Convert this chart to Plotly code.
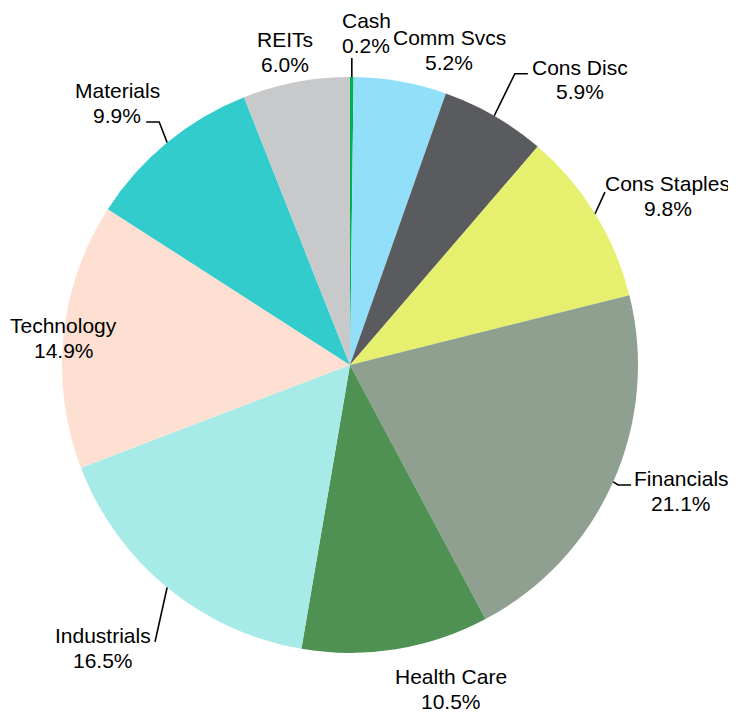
import math
import plotly.graph_objects as go

# ---- data ----
sectors = ["Cash", "Comm Svcs", "Cons Disc", "Cons Staples", "Financials",
           "Health Care", "Industrials", "Technology", "Materials", "REITs"]
weights = [0.2, 5.2, 5.9, 9.8, 21.1, 10.5, 16.5, 14.9, 9.9, 6.0]

# ---- style ----
colors = ["#00b050", "#92dff9", "#5a5b5e", "#e6ef6e", "#8fa091",
          "#4f9153", "#a6ebe8", "#fde0d2", "#33cccc", "#c8c9cb"]
W, H = 736, 712
PAGE_OFF = 8                        # default body margin of the html page
CX, CY, R = 350 - PAGE_OFF, 365 - PAGE_OFF, 288   # pie centre / radius in figure px
FONT = dict(family="Liberation Sans, Arial, sans-serif", size=21, color="#000000")
LINE_GAP = 24.5

# label placement: radial distance (x radius) and angle offset (deg) from slice mid-angle
label_dist = [1.154, 1.147, 1.272, 1.250, 1.230, 1.178, 1.304, 0.998, 1.217, 1.110]
label_dang = [2.4, 7.4, 8.8, 3.7, -3.1, -8.1, 1.7, -0.5, -2.2, -0.9]
# leader lines: (end dx, end dy relative to label centre, elbow horizontal length) or None
leaders = [(-14, 25, 0), None, (-52, -6, -13), (-63, -4, 0), (-50, -6, -13),
           None, (52, -6, 0), None, (29, 19, 13), None]
vertical_leader = [True, False, False, False, False, False, False, False, False, False]


def px_to_paper(x, y):
    return x / W, 1 - y / H


def polar(angle_deg, dist):
    a = math.radians(angle_deg)
    return CX + dist * math.sin(a), CY - dist * math.cos(a)


fig = go.Figure(go.Pie(
    labels=sectors,
    values=weights,
    sort=False,
    direction="clockwise",
    rotation=0,
    marker=dict(colors=colors, line=dict(width=0)),
    textinfo="none",
    showlegend=False,
    hoverinfo="label+value",
    domain=dict(x=[(CX - R) / W, (CX + R) / W],
                y=[1 - (CY + R) / H, 1 - (CY - R) / H]),
))

total = sum(weights)
cum = 0.0
annotations = []
shapes = []
for i, (name, v) in enumerate(zip(sectors, weights)):
    mid = (cum + v / 2) / total * 360.0
    cum += v
    lx, ly = polar(mid + label_dang[i], label_dist[i] * R)
    for text, dy in ((name, -LINE_GAP / 2), (f"{v:.1f}%", LINE_GAP / 2)):
        px, py = px_to_paper(lx, ly + dy)
        annotations.append(dict(x=px, y=py, xref="paper", yref="paper", text=text,
                                showarrow=False, xanchor="center", yanchor="middle",
                                font=FONT))
    if leaders[i] is not None:
        ex, ey, hx = leaders[i]
        sx, sy = polar(mid, R)
        endx, endy = lx + ex, ly + ey
        if vertical_leader[i]:
            endx = sx
        elx, ely = endx + hx, endy
        pts = [(sx, sy), (elx, ely), (endx, endy)]
        path = "M " + " L ".join("%.5f,%.5f" % px_to_paper(x, y) for x, y in pts)
        shapes.append(dict(type="path", xref="paper", yref="paper", path=path,
                           line=dict(color="#000000", width=1.6)))

fig.update_layout(
    width=W, height=H,
    margin=dict(l=0, r=0, t=0, b=0),
    paper_bgcolor="white",
    plot_bgcolor="white",
    annotations=annotations,
    shapes=shapes,
)
fig.write_html("out.html")
